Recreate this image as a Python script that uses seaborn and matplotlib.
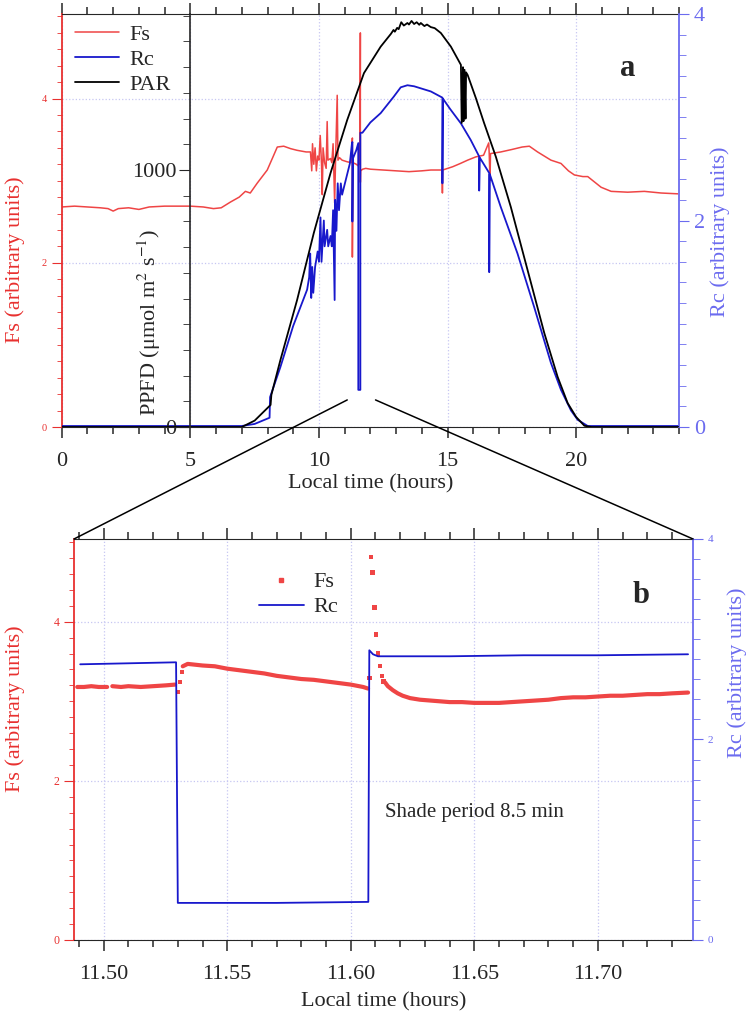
import numpy as np
import matplotlib.pyplot as plt
import seaborn as sns
from matplotlib.lines import Line2D
from matplotlib.patches import ConnectionPatch
from matplotlib.ticker import MultipleLocator, FormatStrFormatter

sns.set_style('ticks')
plt.rcParams['font.family'] = ['Liberation Serif', 'DejaVu Serif']
plt.rcParams['mathtext.fontset'] = 'stix'

# ---- panel a: whole day ----
t_fs_a = [0.0, 0.5, 1.0, 1.5, 1.8, 2.0, 2.2, 2.6, 3.0, 3.4, 4.0, 4.6, 5.0, 5.5, 5.9, 6.2,
          6.56, 6.9, 7.14, 7.33, 7.6, 7.99, 8.2, 8.38, 8.63, 8.9, 9.15, 9.5, 9.67, 9.72,
          9.75, 9.80, 9.85, 9.90, 9.95, 10.0, 10.05, 10.1, 10.13, 10.16, 10.22, 10.28,
          10.32, 10.35, 10.45, 10.5, 10.55, 10.61, 10.65, 10.71, 10.74, 10.8, 10.9, 11.0,
          11.1, 11.25, 11.3, 11.3, 11.32, 11.45, 11.53, 11.55, 11.6, 11.61, 11.61, 11.62,
          11.7, 11.82, 12.0, 12.5, 13.0, 13.5, 14.0, 14.35, 14.79, 14.8, 14.81, 15.2, 15.5,
          15.78, 16.1, 16.4, 16.6, 16.62, 16.65, 16.67, 17.07, 17.5, 17.9, 18.18, 18.5,
          19.02, 19.41, 19.7, 19.93, 20.26, 20.45, 20.97, 21.36, 22.0, 22.65, 23.3, 23.95]
fs_a = [2.68, 2.69, 2.68, 2.67, 2.66, 2.63, 2.66, 2.67, 2.65, 2.68, 2.69, 2.69, 2.69, 2.68, 2.66, 2.67,
        2.74, 2.80, 2.87, 2.85, 2.97, 3.13, 3.28, 3.41, 3.42, 3.39, 3.37, 3.35, 3.35, 3.12,
        3.45, 3.20, 3.40, 3.12, 3.30, 3.25, 3.55, 3.20, 2.83, 3.40, 3.22, 3.15,
        3.72, 3.25, 3.27, 3.22, 3.45, 2.73, 3.30, 4.04, 3.25, 3.28, 3.25, 3.24,
        3.23, 3.22, 3.52, 2.07, 3.22, 3.20, 3.18, 3.45, 3.20, 4.80, 2.98, 3.12,
        3.14, 3.15, 3.14, 3.13, 3.12, 3.11, 3.12, 3.13, 3.13, 2.85, 3.13, 3.17, 3.21,
        3.25, 3.29, 3.31, 3.46, 3.33, 3.00, 3.33, 3.35, 3.38, 3.41, 3.42, 3.35,
        3.25, 3.21, 3.12, 3.07, 3.05, 3.05, 2.92, 2.87, 2.86, 2.87, 2.85, 2.84]

t_rc_a = [0.0, 7.0, 7.5, 8.08, 8.1, 8.5, 9.0, 9.54, 9.62, 9.66, 9.70, 9.74, 9.78, 9.85, 9.95,
          10.0, 10.06, 10.1, 10.19, 10.22, 10.32, 10.36, 10.45, 10.5, 10.55, 10.61, 10.63,
          10.68, 10.73, 10.78, 10.85, 10.9, 11.0, 11.1, 11.2, 11.28, 11.3, 11.3, 11.32, 11.45,
          11.53, 11.53, 11.61, 11.61, 11.69, 12.0, 12.4, 12.91, 13.18, 13.44, 13.7, 13.96,
          14.35, 14.8, 14.8, 14.82, 15.1, 15.52, 15.9, 16.23, 16.23, 16.25, 16.62, 16.62,
          16.64, 17.07, 17.72, 18.37, 19.02, 19.41, 19.8, 20.06, 20.45, 24.0]
rc_a = [0.01, 0.01, 0.03, 0.09, 0.29, 0.58, 0.98, 1.33, 1.45, 1.68, 1.25, 1.55, 1.30, 1.55, 1.70,
        1.60, 2.03, 1.60, 2.00, 1.75, 1.91, 1.75, 1.85, 1.75, 2.10, 1.23, 2.20,
        1.90, 2.36, 2.10, 2.36, 2.25, 2.35, 2.45, 2.55, 2.74, 2.76, 1.99, 2.60, 2.68,
        2.75, 0.36, 0.36, 2.85, 2.85, 2.95, 3.04, 3.20, 3.29, 3.31, 3.30, 3.28,
        3.25, 3.19, 2.36, 3.18, 3.08, 2.94, 2.78, 2.62, 2.29, 2.61, 2.46, 1.50,
        2.45, 2.13, 1.68, 1.16, 0.62, 0.36, 0.16, 0.07, 0.01, 0.01]

t_par = [0.0, 7.0, 7.5, 8.12, 8.15, 8.5, 9.15, 9.8, 10.45, 11.1, 11.75, 12.4, 12.8, 12.9, 12.95,
         13.04, 13.1, 13.2, 13.3, 13.44, 13.5, 13.6, 13.7, 13.8, 13.9, 13.96, 14.1, 14.2, 14.35,
         14.5, 14.74, 15.13, 15.52, 15.55, 15.6, 15.62, 15.66, 15.7, 15.72, 15.78, 16.1, 16.42,
         16.88, 17.46, 18.11, 18.76, 19.28, 19.67, 20.0, 20.32, 20.6, 24.0]
par = [0, 0, 25, 86, 125, 260, 494, 755, 988, 1195, 1377, 1480, 1530, 1545, 1538,
       1553, 1548, 1575, 1562, 1572, 1566, 1580, 1568, 1575, 1565, 1572, 1560, 1566, 1556,
       1552, 1533, 1480, 1409, 1183, 1400, 1190, 1390, 1200, 1380, 1370, 1280, 1183,
       1051, 856, 611, 366, 195, 93, 39, 5, 0, 0]

# ---- panel b: shading experiment ----
t_fs_pre1 = [11.4893, 11.492, 11.495, 11.498, 11.5014]
fs_pre1 = [3.18, 3.18, 3.19, 3.18, 3.18]
t_fs_pre2 = [11.5035, 11.507, 11.510, 11.515, 11.520, 11.525, 11.5289]
fs_pre2 = [3.19, 3.18, 3.19, 3.18, 3.19, 3.20, 3.21]
t_fs_shade = [11.532, 11.534, 11.537, 11.540, 11.545, 11.550, 11.555, 11.560, 11.565, 11.570,
              11.575, 11.580, 11.585, 11.590, 11.595, 11.600, 11.605, 11.607]
fs_shade = [3.44, 3.47, 3.46, 3.45, 3.44, 3.41, 3.39, 3.37, 3.35, 3.32,
            3.30, 3.28, 3.27, 3.25, 3.23, 3.21, 3.18, 3.16]
t_fs_post = [11.6138, 11.615, 11.617, 11.619, 11.621, 11.624, 11.628, 11.632, 11.636, 11.640,
             11.645, 11.650, 11.655, 11.660, 11.665, 11.670, 11.675, 11.680, 11.685, 11.690,
             11.695, 11.700, 11.705, 11.710, 11.715, 11.720, 11.725, 11.730, 11.7365]
fs_post = [3.24, 3.19, 3.14, 3.10, 3.07, 3.04, 3.02, 3.01, 3.00, 2.99,
           2.99, 2.98, 2.98, 2.98, 2.99, 3.00, 3.01, 3.02, 3.04, 3.05,
           3.05, 3.06, 3.07, 3.07, 3.08, 3.09, 3.09, 3.10, 3.11]
t_fs_dots = [11.5300, 11.5309, 11.5316, 11.6075, 11.6081, 11.6088, 11.6096, 11.6103,
             11.6111, 11.6119, 11.6126, 11.6133]
fs_dots = [3.12, 3.24, 3.37, 3.29, 4.81, 4.62, 4.18, 3.84, 3.60, 3.44, 3.32, 3.25]

t_rc_b = [11.4905, 11.510, 11.5293, 11.5300, 11.570, 11.6071, 11.6075, 11.609, 11.611,
          11.640, 11.670, 11.700, 11.7365]
rc_b = [2.75, 2.76, 2.77, 0.37, 0.37, 0.38, 2.89, 2.85, 2.83, 2.83, 2.84, 2.84, 2.85]

FS_AX = '#e8302f'
FS_LINE = '#ef4545'
RC_LINE = '#1818cc'
RC_AX = '#6b6bef'
GRID = '#c6c6f2'

fig = plt.figure(figsize=(7.5, 10.29), dpi=100)
ax = fig.add_axes([0.0823, 0.585, 0.8231, 0.4014])
axb = fig.add_axes([0.0987, 0.0865, 0.8253, 0.3897])


def style_pair(a_fs, a_rc, fs_size, rc_size):
    a_fs.spines['left'].set_color(FS_AX)
    a_fs.spines['left'].set_linewidth(1.3)
    a_fs.spines['right'].set_visible(False)
    a_fs.tick_params(axis='y', which='both', colors=FS_AX, direction='out', labelsize=fs_size)
    a_fs.tick_params(axis='y', which='major', length=7)
    a_fs.tick_params(axis='y', which='minor', length=3.5)
    a_fs.tick_params(axis='x', which='both', direction='out', top=True, bottom=True,
                     labelsize=16, pad=10, width=1.1)
    a_fs.tick_params(axis='x', which='major', length=8)
    a_fs.tick_params(axis='x', which='minor', length=5)
    a_fs.set_yticks([0, 2, 4])
    a_fs.yaxis.set_minor_locator(MultipleLocator(0.2))
    a_fs.grid(True, which='major', color=GRID, ls=':', lw=0.9)
    for s in ['left', 'top', 'bottom']:
        a_rc.spines[s].set_visible(False)
    a_rc.spines['right'].set_color(RC_AX)
    a_rc.spines['right'].set_linewidth(1.3)
    a_rc.tick_params(axis='y', which='both', colors=RC_AX, direction='out', labelsize=rc_size)
    a_rc.tick_params(axis='y', which='major', length=7)
    a_rc.tick_params(axis='y', which='minor', length=5)
    a_rc.set_ylim(0, 4)
    a_rc.set_yticks([0, 2, 4])
    a_rc.yaxis.set_minor_locator(MultipleLocator(0.2))


# panel a
ax2 = ax.twinx()
ax3 = ax.twinx()
sns.lineplot(x=t_fs_a, y=fs_a, ax=ax, estimator=None, sort=False, color=FS_LINE, lw=1.1)
sns.lineplot(x=t_rc_a, y=rc_a, ax=ax2, estimator=None, sort=False, color=RC_LINE, lw=1.3)
sns.lineplot(x=t_par, y=par, ax=ax3, estimator=None, sort=False, color='black', lw=1.3)

ax.set_xlim(0, 24)
ax.set_ylim(0, 5.03)
ax.set_xticks([0, 5, 10, 15, 20])
ax.xaxis.set_minor_locator(MultipleLocator(1))
style_pair(ax, ax2, 7.5, 16)

for s in ['right', 'top', 'bottom']:
    ax3.spines[s].set_visible(False)
ax3.spines['left'].set_visible(True)
ax3.spines['left'].set_position(('axes', 5 / 24))
ax3.spines['left'].set_linewidth(1.2)
ax3.yaxis.tick_left()
ax3.yaxis.set_label_position('left')
ax3.set_ylim(0, 1607)
ax3.set_yticks([0, 1000])
ax3.yaxis.set_minor_locator(MultipleLocator(100))
ax3.tick_params(axis='y', which='both', direction='out', labelsize=16, pad=2)
ax3.tick_params(axis='y', which='major', length=8)
ax3.tick_params(axis='y', which='minor', length=5)

ax.set_xlabel('Local time (hours)', fontsize=16, labelpad=2)
ax.set_ylabel('Fs (arbitrary units)', fontsize=16, color=FS_AX)
ax.yaxis.set_label_coords(-0.059, 0.404)
ax2.set_ylabel('Rc (arbitrary units)', fontsize=16, color=RC_AX)
ax2.yaxis.set_label_coords(1.05, 0.472)
ax3.set_ylabel('PPFD (μmol m$^{2}$ s$^{-1}$)', fontsize=16)
ax3.yaxis.set_label_coords(0.164, 0.254)
ax.text(0.916, 0.867, 'a', transform=ax.transAxes, fontsize=22, fontweight='bold',
        ha='center', va='center')

handles_a = [Line2D([], [], color=FS_LINE, lw=1.1), Line2D([], [], color=RC_LINE, lw=1.3),
             Line2D([], [], color='black', lw=1.3)]
ax3.legend(handles_a, ['Fs', 'Rc', 'PAR'], loc='upper left', bbox_to_anchor=(0.0215, 0.975),
           frameon=False, fontsize=16, borderpad=0, borderaxespad=0, handlelength=2.0,
           handletextpad=0.45, labelspacing=0.2)

# panel b
axb2 = axb.twinx()
for tt, vv in [(t_fs_pre1, fs_pre1), (t_fs_pre2, fs_pre2), (t_fs_shade, fs_shade), (t_fs_post, fs_post)]:
    sns.lineplot(x=tt, y=vv, ax=axb, estimator=None, sort=False, color=FS_LINE, lw=3.0)
sns.scatterplot(x=t_fs_dots, y=fs_dots, ax=axb, marker='s', s=10, color=FS_LINE,
                edgecolor='none', linewidth=0)
sns.lineplot(x=t_rc_b, y=rc_b, ax=axb2, estimator=None, sort=False, color=RC_LINE, lw=1.3)

axb.set_xlim(11.488, 11.7385)
axb.set_ylim(0, 5.04)
axb.set_xticks([11.50, 11.55, 11.60, 11.65, 11.70])
axb.xaxis.set_major_formatter(FormatStrFormatter('%.2f'))
axb.xaxis.set_minor_locator(MultipleLocator(0.01))
style_pair(axb, axb2, 8.5, 8)

axb.set_xlabel('Local time (hours)', fontsize=16, labelpad=6)
axb.set_ylabel('Fs (arbitrary units)', fontsize=16, color=FS_AX)
axb.yaxis.set_label_coords(-0.079, 0.576)
axb2.set_ylabel('Rc (arbitrary units)', fontsize=16, color=RC_AX)
axb2.yaxis.set_label_coords(1.055, 0.666)
axb.text(0.916, 0.86, 'b', transform=axb.transAxes, fontsize=22, fontweight='bold',
         ha='center', va='center')
axb.text(11.614, 1.6, 'Shade period 8.5 min', fontsize=15, ha='left', va='center')

handles_b = [Line2D([], [], color=FS_LINE, marker='s', ms=3, ls='none'),
             Line2D([], [], color=RC_LINE, lw=1.3)]
axb2.legend(handles_b, ['Fs', 'Rc'], loc='upper left', bbox_to_anchor=(0.299, 0.918),
            frameon=False, fontsize=16, borderpad=0, borderaxespad=0, handlelength=2.0,
            handletextpad=0.45, labelspacing=0.2)

# zoom connectors
for xa, xb in [(11.10, 0.0), (12.2, 1.0)]:
    con = ConnectionPatch(xyA=(xa, 0.33), coordsA=ax.transData, xyB=(xb, 1.0),
                          coordsB=axb.transAxes, color='black', lw=1.1)
    fig.add_artist(con)

fig.savefig('out.png', dpi=100)
